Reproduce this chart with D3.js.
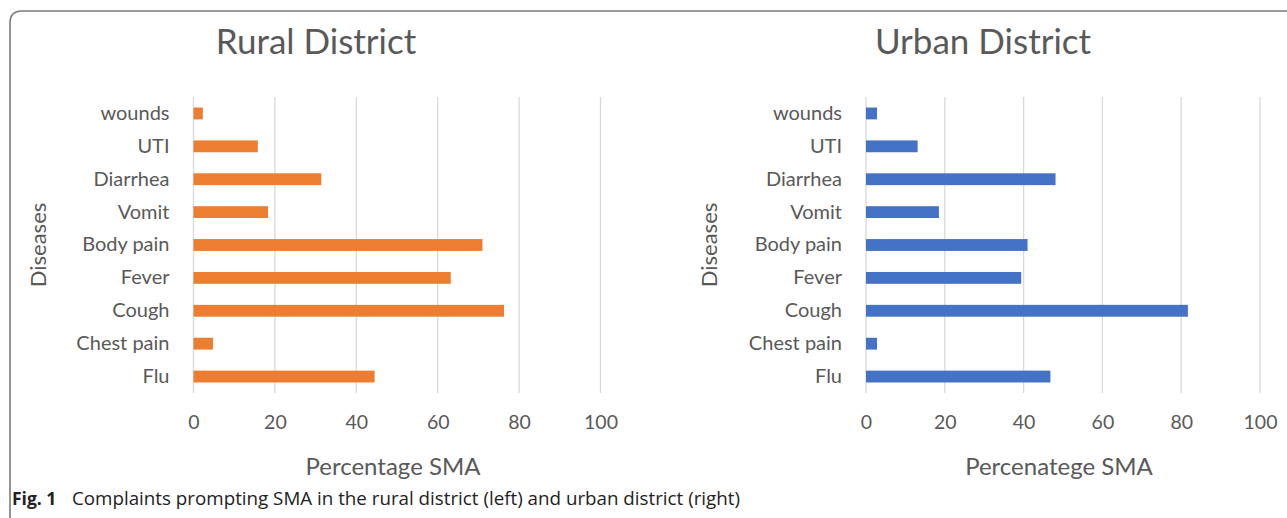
<!DOCTYPE html>
<html>
<head>
<meta charset="utf-8">
<script src="https://cdn.jsdelivr.net/npm/d3@7"></script>
<style>
    body { margin: 0; background: #fff; }
    text { font-family: Lato, "Open Sans", sans-serif; }
</style>
</head>
<body>
<svg id="chart" width="1287" height="518"></svg>
<script>
// categories from top to bottom as drawn
var diseases = ["wounds", "UTI", "Diarrhea", "Vomit", "Body pain", "Fever", "Cough", "Chest pain", "Flu"];
var ruralValues = [2.3, 15.8, 31.4, 18.3, 71.0, 63.2, 76.3, 4.8, 44.5];
var urbanValues = [2.8, 13.1, 48.1, 18.5, 41.0, 39.4, 81.7, 2.8, 46.8];
var xTicks = [0, 20, 40, 60, 80, 100];

var svg = d3.select("#chart");

// frame round the figure
svg.append("path")
    .attr("d", "M1287,11 L22,11 Q10,11 10,23 L10,518")
    .attr("fill", "none")
    .attr("stroke", "#7a7a7a")
    .attr("stroke-width", 1.6);

var panels = [
    {title: "Rural District", xTitle: "Percentage SMA", values: ruralValues, color: "#ED7D31",
        x0: 193.5, x1: 600.5, titleX: 316, yTitleX: 38},
    {title: "Urban District", xTitle: "Percenatege SMA", values: urbanValues, color: "#4472C4",
        x0: 866, x1: 1260, titleX: 983, yTitleX: 709}
];

panels.forEach(function (p) {
    var g = svg.append("g");
    var x = d3.scaleLinear().domain([0, 100]).range([p.x0, p.x1]);
    var y = d3.scaleBand().domain(diseases).range([97, 393]).paddingInner(0.64).paddingOuter(0.32);

    // gridlines
    g.selectAll("line.grid")
        .data(xTicks)
        .enter()
        .append("line")
        .attr("class", "grid")
        .attr("x1", x).attr("x2", x)
        .attr("y1", 97).attr("y2", 393)
        .attr("stroke", "#d9d9d9")
        .attr("stroke-width", 1.3);

    // bars
    g.selectAll("rect")
        .data(p.values)
        .enter()
        .append("rect")
        .attr("x", x(0))
        .attr("y", function (d, i) { return y(diseases[i]); })
        .attr("width", function (d) { return x(d) - x(0); })
        .attr("height", y.bandwidth())
        .attr("fill", p.color);

    // x axis
    var xa = g.append("g")
        .attr("transform", "translate(0,393)")
        .call(d3.axisBottom(x).tickValues(xTicks).tickSize(0).tickPadding(22));
    xa.select(".domain").remove();
    xa.selectAll("text")
        .attr("font-size", 19.5)
        .attr("fill", "#595959")
        .style("font-family", "Lato, sans-serif");

    // y axis
    var ya = g.append("g")
        .attr("transform", "translate(" + x(0) + ",0)")
        .call(d3.axisLeft(y).tickSize(0).tickPadding(24));
    ya.select(".domain").remove();
    ya.selectAll("text")
        .attr("font-size", 20)
        .attr("fill", "#595959")
        .style("font-family", "Lato, sans-serif");

    g.append("text")
        .attr("x", p.titleX).attr("y", 54)
        .attr("text-anchor", "middle")
        .attr("font-size", 35)
        .attr("fill", "#595959")
        .text(p.title);

    g.append("text")
        .attr("x", (p.x0 + p.x1) / 2 - 4).attr("y", 475)
        .attr("text-anchor", "middle")
        .attr("font-size", 24)
        .attr("fill", "#595959")
        .text(p.xTitle);

    g.append("text")
        .attr("transform", "translate(" + (p.yTitleX + 8) + ",245) rotate(-90)")
        .attr("text-anchor", "middle")
        .attr("font-size", 22)
        .attr("fill", "#595959")
        .text("Diseases");
});

// caption
var cap = svg.append("text")
    .attr("x", 12).attr("y", 505)
    .attr("font-size", 17.5)
    .attr("fill", "#222")
    .style("font-family", "'Open Sans', sans-serif");
cap.append("tspan").attr("font-weight", "bold").text("Fig. 1");
cap.append("tspan")
    .attr("x", 72)
    .attr("textLength", 668)
    .attr("lengthAdjust", "spacingAndGlyphs")
    .text("Complaints prompting SMA in the rural district (left) and urban district (right)");
</script>
</body>
</html>
